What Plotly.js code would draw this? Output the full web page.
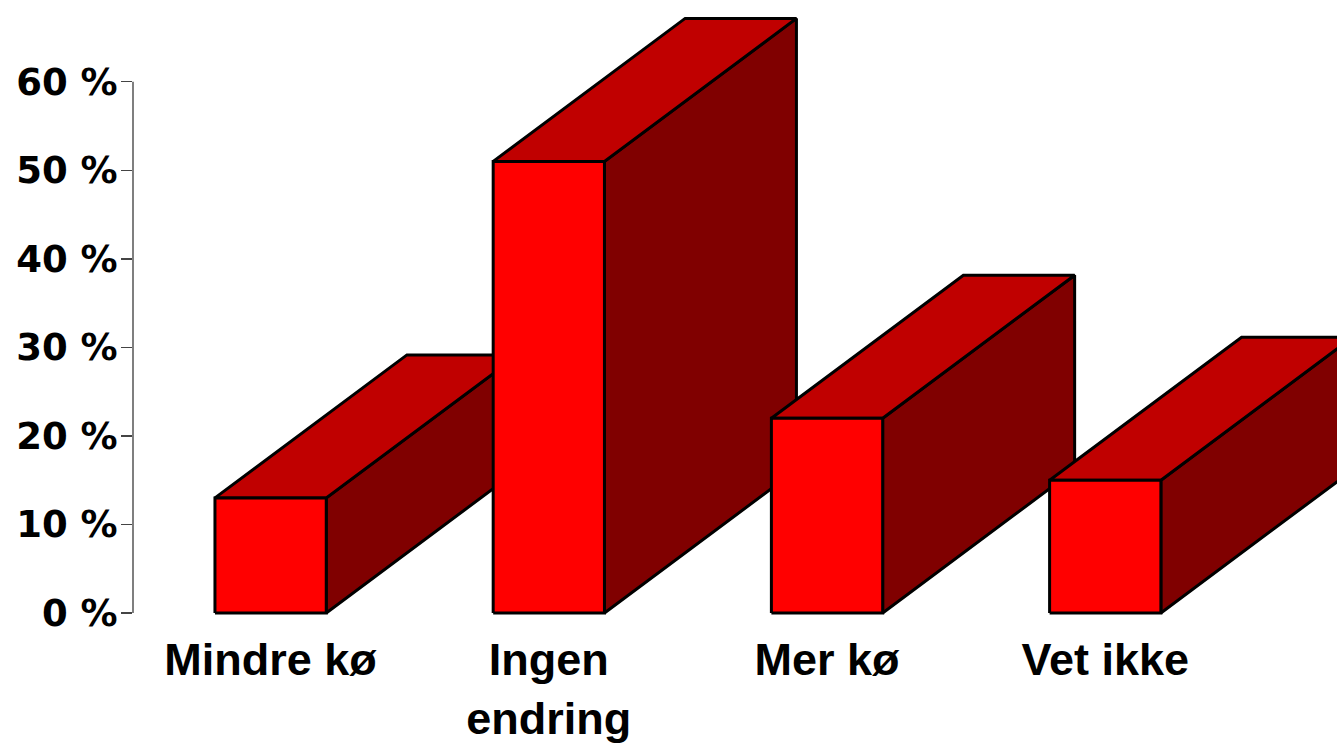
<!DOCTYPE html>
<html>
<head>
<meta charset="utf-8">
<script src="https://cdn.plot.ly/plotly-3.0.1.min.js"></script>
<style>html,body{margin:0;padding:0;background:#fff;}#chart{width:1337px;height:745px;}</style>
</head>
<body>
<div id="chart"></div>
<script>
// Data
const categories = ['Mindre kø', 'Ingen<br>endring', 'Mer kø', 'Vet ikke'];
const values = [13, 51, 22, 15];
const yTickVals = [0, 10, 20, 30, 40, 50, 60];
const yTickText = ['0 %', '10 %', '20 %', '30 %', '40 %', '50 %', '60 %'];

// 3D look (styling)
const barWidth = 0.4;
const depthX = 0.69;
const depthY = 16.15;
const frontColor = '#FF0000';
const topColor = '#C00000';
const sideColor = '#800000';
const edge = {color: '#000000', width: 3};

const traces = [];
function poly(xs, ys, color) {
  traces.push({
    type: 'scatter', mode: 'lines', x: xs, y: ys,
    fill: 'toself', fillcolor: color, line: edge,
    hoverinfo: 'skip', showlegend: false
  });
}
values.forEach((v, i) => {
  const x0 = i - barWidth / 2, x1 = i + barWidth / 2;
  poly([x1, x1 + depthX, x1 + depthX, x1, x1], [0, depthY, v + depthY, v, 0], sideColor);
  poly([x0, x1, x1 + depthX, x0 + depthX, x0], [v, v, v + depthY, v + depthY, v], topColor);
  poly([x0, x1, x1, x0, x0], [0, 0, v, v, 0], frontColor);
});

const layout = {
  width: 1337, height: 745,
  margin: {l: 133, r: 0, t: 0, b: 125},
  paper_bgcolor: '#ffffff', plot_bgcolor: 'rgba(0,0,0,0)',
  showlegend: false,
  xaxis: {
    range: [-0.4946, 3.833],
    tickmode: 'array', tickvals: categories.map((c, i) => i), ticktext: categories,
    showgrid: false, zeroline: false, showline: false, ticks: '',
    ticklabelstandoff: 9,
    tickfont: {family: 'Liberation Sans, Arial, sans-serif', size: 45, color: '#000', weight: 'bold'},
    fixedrange: true
  },
  yaxis: {
    range: [-0.79, 69.23],
    tickmode: 'array', tickvals: yTickVals, ticktext: yTickText,
    showgrid: false, zeroline: false, showline: false,
    ticks: 'outside', ticklen: 11, tickwidth: 1.5, tickcolor: '#444',
    ticklabelstandoff: -4,
    tickfont: {family: 'DejaVu Sans, sans-serif', size: 37, color: '#000', weight: 'bold'},
    fixedrange: true
  },
  shapes: [{
    type: 'line', xref: 'paper', yref: 'y', x0: 0, x1: 0, y0: 0, y1: 60,
    line: {color: '#555', width: 1.5}, layer: 'below'
  }]
};

Plotly.newPlot('chart', traces, layout, {displayModeBar: false, staticPlot: true}).then(() => {
  document.querySelectorAll('.scatterlayer path.js-line').forEach(p => p.style.strokeLinejoin = 'miter');
});
</script>
</body>
</html>
